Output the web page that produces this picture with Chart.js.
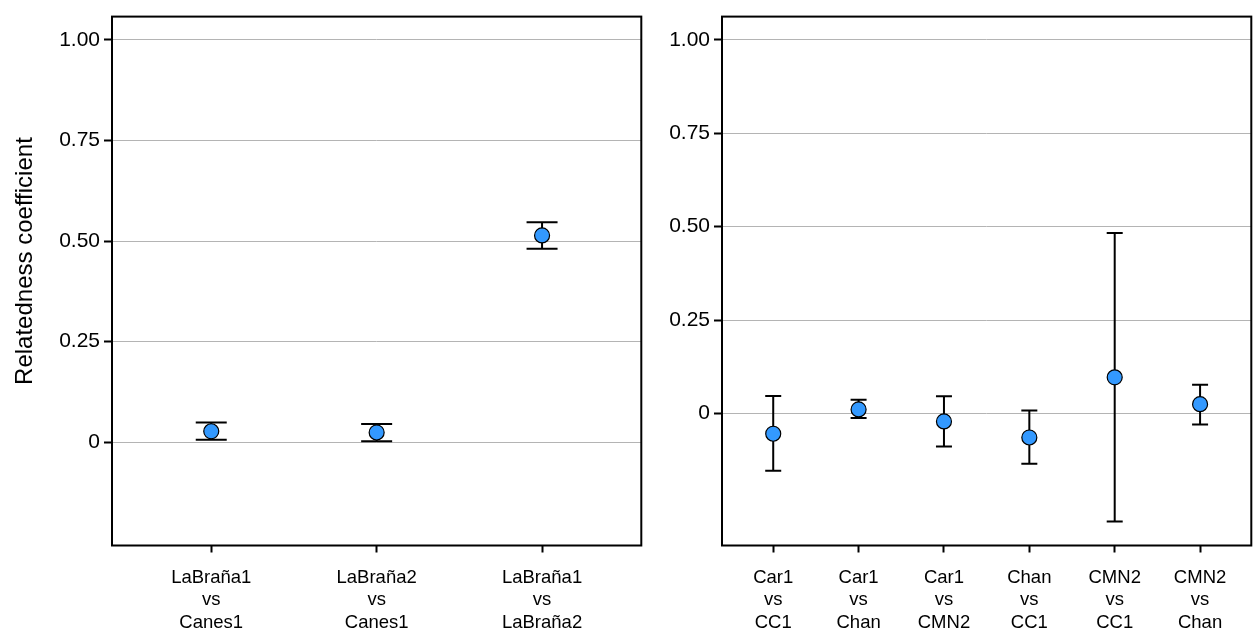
<!DOCTYPE html>
<html>
<head>
<meta charset="utf-8">
<script src="https://cdn.jsdelivr.net/npm/chart.js@4.4.1/dist/chart.umd.min.js"></script>
<style>
  html, body { margin: 0; padding: 0; background: #fff; }
  #wrap { position: relative; width: 1260px; height: 637px; overflow: hidden; }
  .panel { position: absolute; top: 0; height: 637px; }
  #left { left: 0; width: 650px; }
  #right { left: 650px; width: 610px; }
</style>
</head>
<body>
<div id="wrap">
  <div class="panel" id="left"><canvas id="cLeft"></canvas></div>
  <div class="panel" id="right"><canvas id="cRight"></canvas></div>
</div>
<script>
// Pairwise relatedness estimates with confidence intervals
const leftPairs = [["LaBraña1", "vs", "Canes1"], ["LaBraña2", "vs", "Canes1"], ["LaBraña1", "vs", "LaBraña2"]];
const leftEstimate = [0.027, 0.024, 0.514];
const leftLower    = [0.006, 0.002, 0.481];
const leftUpper    = [0.049, 0.045, 0.547];

const rightPairs = [["Car1", "vs", "CC1"], ["Car1", "vs", "Chan"], ["Car1", "vs", "CMN2"],
                    ["Chan", "vs", "CC1"], ["CMN2", "vs", "CC1"], ["CMN2", "vs", "Chan"]];
const rightEstimate = [-0.054, 0.011, -0.021, -0.064, 0.097, 0.025];
const rightLower    = [-0.153, -0.012, -0.088, -0.134, -0.289, -0.029];
const rightUpper    = [0.047, 0.037, 0.046, 0.008, 0.483, 0.077];

const yTickValues = [0, 0.25, 0.5, 0.75, 1.0];
const yAxisTitle = 'Relatedness coefficient';

const FONT = "'Liberation Sans', Arial, Helvetica, sans-serif";

// Error bars drawn behind the points
const errorBarPlugin = {
  id: 'errorBars',
  beforeDatasetsDraw(chart, args, opts) {
    const { ctx, scales: { x, y } } = chart;
    const lo = opts.lower, hi = opts.upper, cap = opts.capHalf;
    ctx.save();
    ctx.strokeStyle = '#000';
    ctx.lineWidth = 2;
    lo.forEach((l, i) => {
      const px = x.getPixelForValue(i + 1);
      const yl = y.getPixelForValue(l);
      const yh = y.getPixelForValue(hi[i]);
      ctx.beginPath();
      ctx.moveTo(px, yl); ctx.lineTo(px, yh);
      ctx.moveTo(px - cap, yl); ctx.lineTo(px + cap, yl);
      ctx.moveTo(px - cap, yh); ctx.lineTo(px + cap, yh);
      ctx.stroke();
    });
    ctx.restore();
  }
};

// Closed frame around the plotting area
const framePlugin = {
  id: 'frame',
  afterDatasetsDraw(chart) {
    const { ctx, chartArea: a } = chart;
    ctx.save();
    ctx.strokeStyle = '#000';
    ctx.lineWidth = 2;
    ctx.strokeRect(a.left, a.top, a.right - a.left, a.bottom - a.top);
    ctx.restore();
  }
};

// Shared vertical axis title, set slightly above the middle of the plot
const sideTitlePlugin = {
  id: 'sideTitle',
  afterDraw(chart, args, opts) {
    if (!opts.text) return;
    const { ctx, chartArea: a } = chart;
    ctx.save();
    ctx.translate(opts.x, (a.top + a.bottom) / 2 - opts.lift);
    ctx.rotate(-Math.PI / 2);
    ctx.font = '24px ' + FONT;
    ctx.fillStyle = '#000';
    ctx.textAlign = 'center';
    ctx.textBaseline = 'middle';
    ctx.fillText(opts.text, 0, 0);
    ctx.restore();
  }
};

function makePanel(canvasId, pairs, est, lower, upper, yMin, yMax, yAxisWidth, capHalf, title) {
  const n = pairs.length;
  return new Chart(document.getElementById(canvasId), {
    type: 'scatter',
    data: {
      datasets: [{
        data: est.map((v, i) => ({ x: i + 1, y: v })),
        pointRadius: 7.5,
        pointHoverRadius: 7.5,
        pointBackgroundColor: '#3399ff',
        pointBorderColor: '#000',
        pointBorderWidth: 1.2
      }]
    },
    options: {
      responsive: true,
      maintainAspectRatio: false,
      animation: false,
      layout: { padding: { top: 11, right: 8, bottom: 0, left: 0 } },
      plugins: {
        legend: { display: false },
        tooltip: { enabled: false },
        errorBars: { lower: lower, upper: upper, capHalf: capHalf },
        sideTitle: { text: title, x: 25, lift: 20 }
      },
      scales: {
        x: {
          type: 'linear',
          min: 0.4,
          max: n + 0.6,
          afterBuildTicks: s => { s.ticks = pairs.map((p, i) => ({ value: i + 1 })); },
          afterFit: s => { s.height = 91.5; },
          ticks: {
            autoSkip: false,
            maxRotation: 0,
            padding: 14,
            color: '#000',
            font: { family: FONT, size: 18.5, lineHeight: 1.21 },
            callback: (v) => pairs[Math.round(v) - 1]
          },
          grid: { drawOnChartArea: false, drawTicks: true, tickLength: 7, tickColor: '#000', tickWidth: 2 },
          border: { display: false }
        },
        y: {
          type: 'linear',
          min: yMin,
          max: yMax,
          afterBuildTicks: s => { s.ticks = yTickValues.map(v => ({ value: v })); },
          afterFit: s => { s.width = yAxisWidth; },
          ticks: {
            padding: 4,
            color: '#000',
            font: { family: FONT, size: 21 },
            callback: v => (v === 0 ? '0' : v.toFixed(2))
          },
          grid: { color: '#b4b4b4', lineWidth: 1, drawTicks: true, tickLength: 8, tickColor: '#000', tickWidth: 2 },
          border: { display: false }
        }
      }
    },
    plugins: [errorBarPlugin, framePlugin, sideTitlePlugin]
  });
}

makePanel('cLeft', leftPairs, leftEstimate, leftLower, leftUpper, -0.257, 1.058, 112, 15.5, yAxisTitle);
makePanel('cRight', rightPairs, rightEstimate, rightLower, rightUpper, -0.353, 1.062, 72, 8, null);
</script>
</body>
</html>
